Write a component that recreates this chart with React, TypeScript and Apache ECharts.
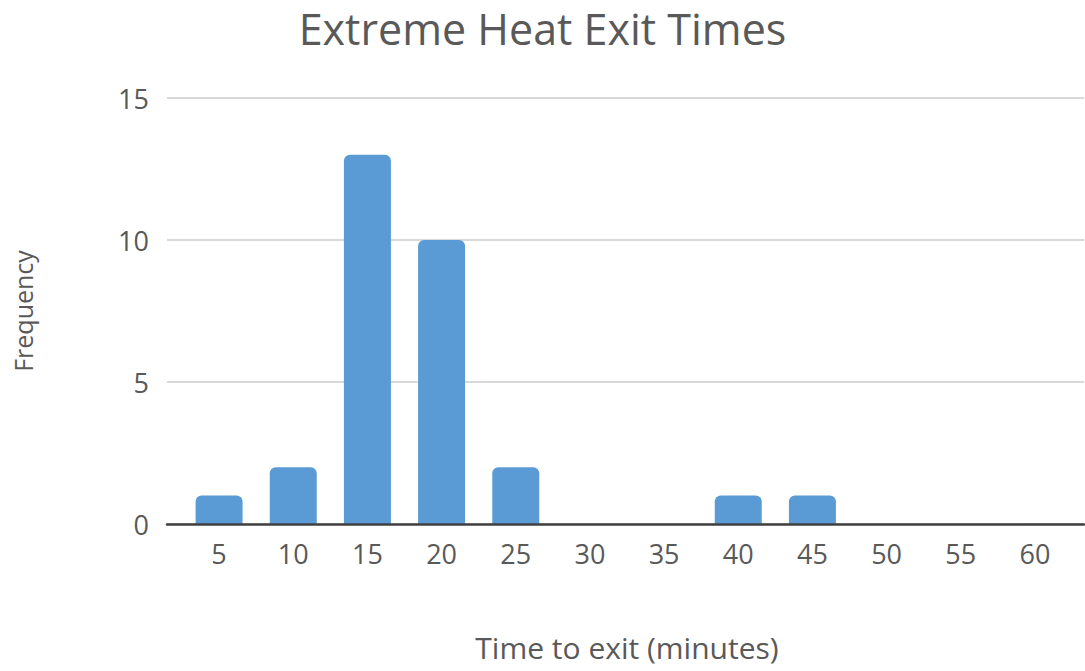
import React, { useEffect, useRef } from "react";
import * as echarts from "echarts";

// Exit-time bins (minutes) and how many people left within each bin
const categories = ["5", "10", "15", "20", "25", "30", "35", "40", "45", "50", "55", "60"];
const frequency = [1, 2, 13, 10, 2, 0, 0, 1, 1, 0, 0, 0];

const titleText = "Extreme Heat Exit Times";
const xAxisTitle = "Time to exit (minutes)";
const yAxisTitle = "Frequency";

const FONT = "'Open Sans', 'Noto Sans', sans-serif";
const TEXT_COLOR = "#595959";
const BAR_COLOR = "#5B9BD5";

const TOP = 98;
const BOTTOM = 147;

export default function App() {
  const ref = useRef<HTMLDivElement>(null);

  useEffect(() => {
    if (!ref.current) return;
    const chart = echarts.init(ref.current, undefined, { renderer: "svg" });

    chart.setOption({
      animation: false,
      backgroundColor: "#ffffff",
      title: {
        text: titleText,
        left: "center",
        top: 2,
        textStyle: { fontFamily: FONT, fontSize: 43, fontWeight: "normal", color: TEXT_COLOR },
      },
      grid: [
        // full-width plot frame: gridlines and the baseline
        { left: 167, right: 1, top: TOP, bottom: BOTTOM, containLabel: false },
        // inset band area holding the bars and category labels
        { left: 182, right: 13, top: TOP, bottom: BOTTOM, containLabel: false },
      ],
      xAxis: [
        {
          gridIndex: 0,
          type: "value",
          min: 0,
          max: 1,
          axisLine: { show: true, onZero: true, lineStyle: { color: "#404040", width: 2.5 } },
          axisTick: { show: false },
          axisLabel: { show: false },
          splitLine: { show: false },
          z: 10,
        },
        {
          gridIndex: 1,
          type: "category",
          data: categories,
          axisLine: { show: false },
          axisTick: { show: false },
          axisLabel: { color: TEXT_COLOR, fontFamily: FONT, fontSize: 27, margin: 16 },
          name: xAxisTitle,
          nameLocation: "middle",
          nameGap: 108,
          nameTextStyle: { color: TEXT_COLOR, fontFamily: FONT, fontSize: 30 },
        },
      ],
      yAxis: [
        {
          gridIndex: 0,
          type: "value",
          min: 0,
          max: 15,
          interval: 5,
          axisLine: { show: false },
          axisTick: { show: false },
          axisLabel: { color: TEXT_COLOR, fontFamily: FONT, fontSize: 27, margin: 18 },
          splitLine: { lineStyle: { color: "#D9D9D9", width: 2 } },
          name: yAxisTitle,
          nameLocation: "middle",
          nameGap: 132,
          nameRotate: 90,
          nameTextStyle: { color: TEXT_COLOR, fontFamily: FONT, fontSize: 25 },
        },
        {
          gridIndex: 1,
          type: "value",
          min: 0,
          max: 15,
          interval: 5,
          show: false,
          splitLine: { show: false },
        },
      ],
      series: [
        {
          type: "bar",
          xAxisIndex: 1,
          yAxisIndex: 1,
          data: frequency,
          barWidth: 47,
          itemStyle: { color: BAR_COLOR, borderRadius: [6, 6, 0, 0] },
        },
      ],
    });

    return () => chart.dispose();
  }, []);

  return (
    <div
      ref={ref}
      style={{ position: "absolute", left: 0, top: 0, width: 1085, height: 671 }}
    />
  );
}
